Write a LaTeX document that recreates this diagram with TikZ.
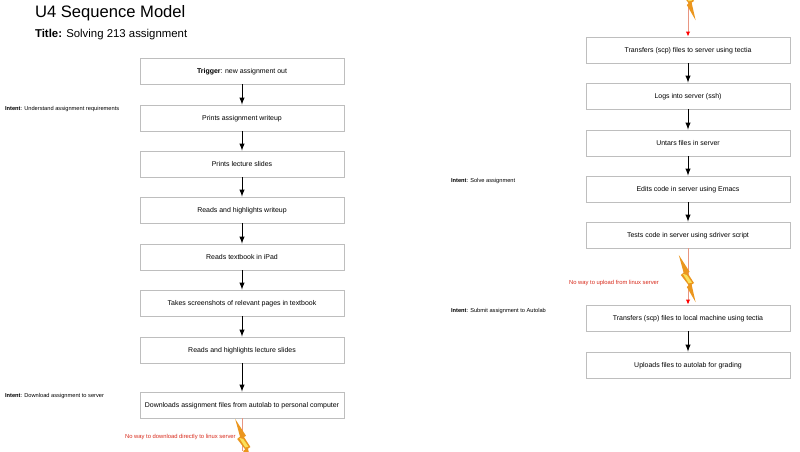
\documentclass[tikz,border=0pt]{standalone}
\usepackage{fontspec}
\usetikzlibrary{arrows.meta}
\setmainfont{Liberation Sans}
\definecolor{boxgray}{RGB}{190,190,190}
\definecolor{boltorange}{RGB}{235,150,30}
\definecolor{boltyellow}{RGB}{250,225,90}
\definecolor{notered}{RGB}{215,40,25}
\definecolor{salmon}{RGB}{232,150,130}
\begin{document}
\begin{tikzpicture}
	[	stepbox/.style={rectangle,draw=boxgray,fill=white,line width=.6pt,minimum width=5.1cm,minimum height=.65cm,text height=4.2pt,text depth=.6pt,font=\fontsize{4.95}{6}\selectfont},
	intent/.style={draw=none,fill=none,anchor=west,inner sep=0pt,font=\fontsize{4.05}{5}\selectfont},
	warn/.style={draw=none,fill=none,anchor=west,inner sep=0pt,text=notered,font=\fontsize{4.15}{5}\selectfont},
	flow/.style={-latex,line width=.7pt,black},
	broken/.style={-{Latex[red,length=3.6pt,width=3.2pt]},line width=.7pt,salmon},
	zap/.pic={
		\fill[boltorange] (0,0) -- (.27,-.42) -- (.22,-.45) -- (.38,-.7) -- (.32,-.74) -- (.42,-1.18) -- (.2,-.8) -- (.25,-.76) -- (.05,-.5) -- (.12,-.44) -- cycle;
		\fill[boltyellow] (.1,-.47) -- (.2,-.5) -- (.33,-.69) -- (.25,-.71) -- cycle;
	}
	]
	\useasboundingbox (0,0) rectangle (20,11.275);
	\clip (0,0) rectangle (20,11.275);
	\node[anchor=west,inner sep=0pt,font=\fontsize{11.8}{14}\selectfont] (heading) at (.87,10.95){U4 Sequence Model};
	\node[anchor=west,inner sep=0pt,font=\fontsize{8.1}{10}\selectfont] (subject) at (.87,10.42){\textbf{Title:} Solving 213 assignment};
	% left column
	\node[stepbox] (trigger) at (6.05,9.5){\textbf{Trigger}: new assignment out};
	\node[stepbox] (writeup) at (6.05,8.325){Prints assignment writeup};
	\node[stepbox] (slides) at (6.05,7.175){Prints lecture slides};
	\node[stepbox] (reads) at (6.05,6.025){Reads and highlights writeup};
	\node[stepbox] (ipad) at (6.05,4.85){Reads textbook in iPad};
	\node[stepbox] (shots) at (6.05,3.7){Takes screenshots of relevant pages in textbook};
	\node[stepbox] (lecture) at (6.05,2.525){Reads and highlights lecture slides};
	\node[stepbox] (download) at (6.05,1.15){Downloads assignment files from autolab to personal computer};
	% right column
	\node[stepbox] (transfer) at (17.2,10.025){Transfers (scp) files to server using tectia};
	\node[stepbox] (logs) at (17.2,8.875){Logs into server (ssh)};
	\node[stepbox] (untar) at (17.2,7.7){Untars files in server};
	\node[stepbox] (edits) at (17.2,6.55){Edits code in server using Emacs};
	\node[stepbox] (tests) at (17.2,5.4){Tests code in server using sdriver script};
	\node[stepbox] (back) at (17.2,3.325){Transfers (scp) files to local machine using tectia};
	\node[stepbox] (upload) at (17.2,2.15){Uploads files to autolab for grading};
	% labels
	\node[intent] (i1) at (.12,8.56){\textbf{Intent}: Understand assignment requirements};
	\node[intent] (i2) at (.12,1.37){\textbf{Intent}: Download assignment to server};
	\node[intent] (i3) at (11.27,6.76){\textbf{Intent}: Solve assignment};
	\node[intent] (i4) at (11.27,3.5){\textbf{Intent}: Submit assignment to Autolab};
	\node[warn] (w1) at (3.12,.34){No way to download directly to linux server};
	\node[warn] (w2) at (14.22,4.2){No way to upload from linux server};
	% ends at the page edge
	\coordinate (pagebottom) at (6.05,0);
	\coordinate (pagetop) at (17.2,11.275);
	\draw[flow] (trigger) -- (writeup);
	\draw[flow] (writeup) -- (slides);
	\draw[flow] (slides) -- (reads);
	\draw[flow] (reads) -- (ipad);
	\draw[flow] (ipad) -- (shots);
	\draw[flow] (shots) -- (lecture);
	\draw[flow] (lecture) -- (download);
	\draw[flow] (transfer) -- (logs);
	\draw[flow] (logs) -- (untar);
	\draw[flow] (untar) -- (edits);
	\draw[flow] (edits) -- (tests);
	\draw[flow] (back) -- (upload);
	\draw[line width=.7pt,salmon] (download) -- (pagebottom);
	\draw[broken] (pagetop) -- (transfer);
	\draw[broken] (tests) -- (back);
	\pic at (5.88,.8) {zap};
	\pic at (16.97,11.95) {zap};
	\pic at (16.97,4.9) {zap};
\end{tikzpicture}
\end{document}
